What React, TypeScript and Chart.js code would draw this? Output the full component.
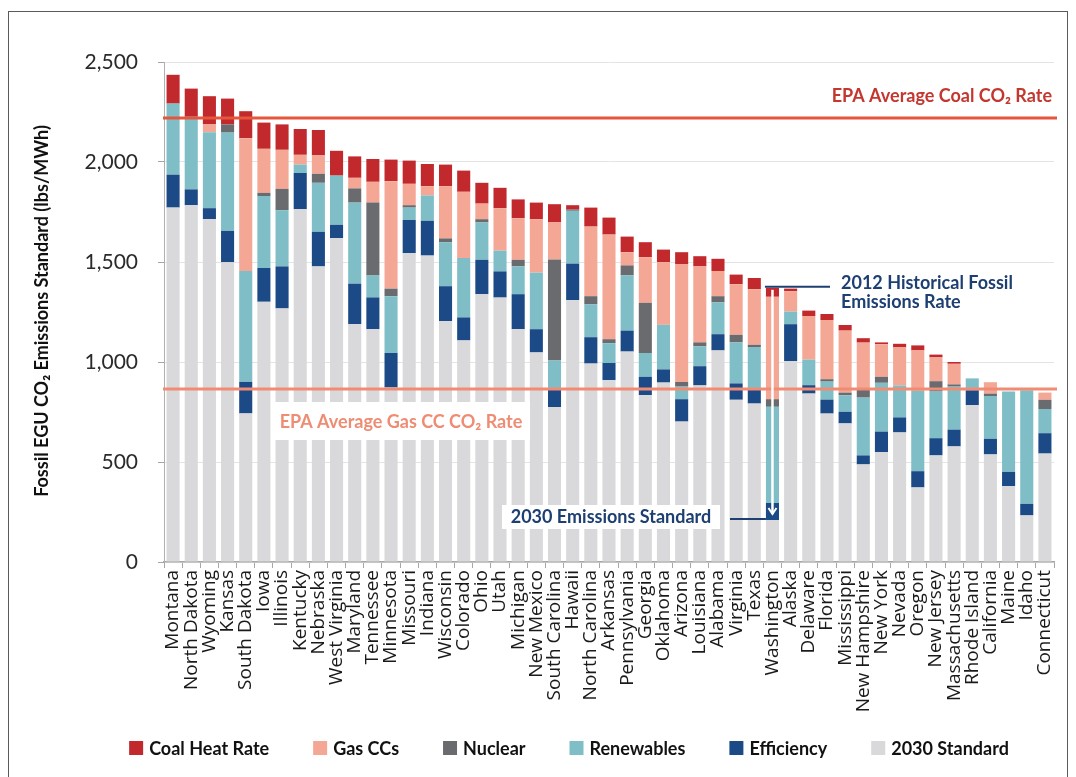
import React, { useEffect, useRef } from 'react';
import { Chart, registerables } from 'chart.js';

Chart.register(...registerables);

// ---------- data ----------
const STATES = [
  'Montana', 'North Dakota', 'Wyoming', 'Kansas', 'South Dakota', 'Iowa', 'Illinois', 'Kentucky',
  'Nebraska', 'West Virginia', 'Maryland', 'Tennessee', 'Minnesota', 'Missouri', 'Indiana',
  'Wisconsin', 'Colorado', 'Ohio', 'Utah', 'Michigan', 'New Mexico', 'South Carolina', 'Hawaii',
  'North Carolina', 'Arkansas', 'Pennsylvania', 'Georgia', 'Oklahoma', 'Arizona', 'Louisiana',
  'Alabama', 'Virginia', 'Texas', 'Washington', 'Alaska', 'Delaware', 'Florida', 'Mississippi',
  'New Hampshire', 'New York', 'Nevada', 'Oregon', 'New Jersey', 'Massachusetts', 'Rhode Island',
  'California', 'Maine', 'Idaho', 'Connecticut',
];

const STANDARD_2030 = [
  1772, 1784, 1715, 1499, 743, 1301, 1268, 1764, 1478, 1620, 1189, 1164, 872, 1544, 1532,
  1205, 1108, 1339, 1322, 1164, 1048, 775, 1309, 992, 909, 1052, 834, 897, 702, 883,
  1058, 811, 792, 210, 1004, 842, 742, 693, 488, 549, 648, 373, 533, 578, 785,
  538, 380, 233, 542,
];

const EFFICIENCY = [
  165, 79, 54, 157, 158, 169, 210, 181, 173, 66, 203, 159, 173, 166, 174,
  174, 115, 172, 131, 175, 116, 88, 183, 132, 86, 105, 92, 66, 112, 96,
  81, 82, 68, 85, 185, 42, 70, 58, 45, 103, 75, 81, 86, 84, 74,
  78, 71, 58, 102,
];

const RENEWABLES = [
  355, 363, 380, 491, 554, 360, 281, 42, 245, 246, 405, 110, 284, 62, 127,
  220, 297, 187, 104, 139, 283, 144, 264, 164, 99, 276, 119, 223, 63, 99,
  159, 205, 215, 481, 63, 128, 90, 83, 289, 244, 160, 401, 236, 215, 59,
  214, 401, 568, 121,
];

const NUCLEAR = [
  0, 0, 0, 41, 0, 16, 107, 0, 45, 0, 71, 364, 38, 12, 0,
  19, 0, 16, 0, 33, 0, 506, 6, 41, 20, 50, 251, 0, 23, 20,
  31, 38, 11, 38, 0, 0, 12, 13, 41, 30, 0, 0, 49, 11, 0,
  12, 0, 0, 46,
];

const GAS_CCS = [
  0, 0, 41, 0, 664, 220, 195, 49, 92, 0, 53, 104, 537, 107, 46,
  261, 331, 78, 212, 208, 267, 185, 0, 348, 523, 66, 228, 313, 588, 380,
  126, 253, 278, 512, 102, 218, 296, 310, 234, 163, 190, 203, 119, 103, 0,
  57, 0, 0, 36,
];

const COAL_HEAT_RATE = [
  144, 141, 139, 129, 135, 131, 127, 129, 127, 124, 107, 114, 108, 116, 111,
  108, 106, 104, 102, 94, 83, 91, 22, 95, 85, 78, 75, 63, 61, 51,
  61, 48, 56, 45, 13, 27, 30, 28, 22, 9, 18, 25, 14, 9, 0,
  0, 0, 0, 0,
];

const Y_MIN = 0;
const Y_MAX = 2500;
const Y_STEP = 500;

const EPA_AVG_COAL_RATE = 2220;
const EPA_AVG_GAS_CC_RATE = 865;
const ANNOTATED_STATE = 'Washington';

const SERIES = [
  { label: '2030 Standard', data: STANDARD_2030, color: '#d9d9db' },
  { label: 'Efficiency', data: EFFICIENCY, color: '#1c4a86' },
  { label: 'Renewables', data: RENEWABLES, color: '#7fbec6' },
  { label: 'Nuclear', data: NUCLEAR, color: '#6a6b6e' },
  { label: 'Gas CCs', data: GAS_CCS, color: '#f5a796' },
  { label: 'Coal Heat Rate', data: COAL_HEAT_RATE, color: '#c2292d' },
];

const NAVY = '#1d3f72';
const LABEL_FONT = "Lato, 'Open Sans', 'DejaVu Sans', sans-serif";

const annotationPlugin = {
  id: 'epaAnnotations',
  afterDatasetsDraw(chart: any) {
    const { ctx, chartArea: ca, scales } = chart;
    const xs = scales.x;
    const ys = scales.y;
    ctx.save();

    const hline = (v: number, color: string, w: number) => {
      const py = ys.getPixelForValue(v);
      ctx.beginPath();
      ctx.strokeStyle = color;
      ctx.lineWidth = w;
      ctx.moveTo(ca.left - 1, py);
      ctx.lineTo(ca.right + 3, py);
      ctx.stroke();
      return py;
    };

    const yCoal = hline(EPA_AVG_COAL_RATE, '#e5563d', 3);
    const yGas = hline(EPA_AVG_GAS_CC_RATE, '#f28b73', 3);

    ctx.textBaseline = 'middle';
    ctx.font = `bold 18px ${LABEL_FONT}`;

    // Coal label
    ctx.fillStyle = '#c3372f';
    ctx.textAlign = 'right';
    ctx.fillText('EPA Average Coal CO₂ Rate', ca.right - 2, yCoal - 22);

    // Gas label on white box
    ctx.fillStyle = '#ffffff';
    ctx.fillRect(273, yGas + 13, 257, 38);
    ctx.fillStyle = '#ee8d74';
    ctx.textAlign = 'center';
    ctx.fillText('EPA Average Gas CC CO₂ Rate', 401, yGas + 33);

    // Washington annotations
    const wa = STATES.indexOf(ANNOTATED_STATE);
    const meta = chart.getDatasetMeta(0);
    const bar = meta.data[wa];
    const xw = xs.getPixelForValue(wa);
    const bw = bar ? bar.width : 13;
    const total = SERIES.reduce((s, d) => s + d.data[wa], 0);
    const yTop = ys.getPixelForValue(total);
    const yStd = ys.getPixelForValue(STANDARD_2030[wa]);

    // white arrow through the bar
    ctx.strokeStyle = '#ffffff';
    ctx.lineWidth = 2.5;
    ctx.beginPath();
    ctx.moveTo(xw, yTop + 2);
    ctx.lineTo(xw, yStd - 6);
    ctx.stroke();
    ctx.lineWidth = 2;
    ctx.beginPath();
    ctx.moveTo(xw - 4, yStd - 12);
    ctx.lineTo(xw, yStd - 6);
    ctx.lineTo(xw + 4, yStd - 12);
    ctx.stroke();

    // 2012 historical line + label
    ctx.strokeStyle = NAVY;
    ctx.lineWidth = 2;
    ctx.beginPath();
    ctx.moveTo(xw - bw / 2 - 1, yTop - 1);
    ctx.lineTo(830, yTop - 1);
    ctx.stroke();
    ctx.fillStyle = NAVY;
    ctx.textAlign = 'left';
    ctx.fillText('2012 Historical Fossil', 841, yTop - 5);
    ctx.fillText('Emissions Rate', 841, yTop + 14);

    // 2030 standard line + label
    ctx.beginPath();
    ctx.moveTo(730, yStd - 1);
    ctx.lineTo(xw - bw / 2, yStd - 1);
    ctx.stroke();
    ctx.fillStyle = '#ffffff';
    ctx.fillRect(502, yStd - 15, 218, 24);
    ctx.fillStyle = NAVY;
    ctx.textAlign = 'center';
    ctx.fillText('2030 Emissions Standard', 611, yStd - 3);

    ctx.restore();
  },
  afterDraw(chart: any) {
    const { ctx } = chart;
    ctx.save();
    // y-axis title
    ctx.translate(42, 311);
    ctx.rotate(-Math.PI / 2);
    ctx.font = `bold 18px ${LABEL_FONT}`;
    ctx.fillStyle = '#111111';
    ctx.textAlign = 'center';
    ctx.textBaseline = 'middle';
    ctx.fillText('Fossil EGU CO₂ Emissions Standard (lbs/MWh)', 0, 0);
    ctx.restore();

    // legend (reverse stacking order, like the original)
    ctx.save();
    ctx.font = `bold 18px ${LABEL_FONT}`;
    ctx.textBaseline = 'middle';
    ctx.textAlign = 'left';
    const items = chart.data.datasets.slice().reverse();
    const box = 14;
    const gapText = 6;
    const gapItem = 44;
    const widths = items.map((d: any) => box + gapText + ctx.measureText(d.label).width);
    const total = widths.reduce((a: number, b: number) => a + b, 0) + gapItem * (items.length - 1);
    let cx = 569 - total / 2;
    const cy = 748;
    items.forEach((d: any, i: number) => {
      ctx.fillStyle = d.backgroundColor;
      ctx.fillRect(cx, cy - box / 2, box, box);
      ctx.fillStyle = '#111111';
      ctx.fillText(d.label, cx + box + gapText, cy + 1);
      cx += widths[i] + gapItem;
    });
    ctx.restore();
  },
};

export default function App() {
  const canvasRef = useRef<HTMLCanvasElement | null>(null);

  useEffect(() => {
    if (!canvasRef.current) return;
    const chart = new Chart(canvasRef.current, {
      type: 'bar',
      data: {
        labels: STATES,
        datasets: SERIES.map((s) => ({
          label: s.label,
          data: s.data,
          backgroundColor: s.color,
          borderWidth: 0,
          barPercentage: 0.72,
          categoryPercentage: 1,
        })),
      },
      options: {
        animation: false,
        responsive: true,
        maintainAspectRatio: false,
        layout: { padding: { left: 82, right: 22, top: 62, bottom: 50 } },
        plugins: {
          tooltip: { enabled: false },
          legend: { display: false },
        },
        scales: {
          x: {
            stacked: true,
            offset: true,
            afterFit: (scale: any) => {
              scale.height = scale.chart.height - 562 - 50;
            },
            grid: {
              offset: true,
              drawOnChartArea: false,
              tickLength: 6,
              color: '#a6a6a6',
            },
            border: { color: '#a6a6a6', width: 1.5 },
            ticks: {
              autoSkip: false,
              maxRotation: 90,
              minRotation: 90,
              padding: 2,
              color: '#1a1a1a',
              font: { family: "'Open Sans', sans-serif", size: 19 },
            },
          },
          y: {
            stacked: true,
            min: Y_MIN,
            max: Y_MAX,
            afterFit: (scale: any) => {
              scale.width = 82;
            },
            grid: {
              color: '#e4e4e4',
              tickColor: '#a6a6a6',
              tickLength: 6,
            },
            border: { color: '#b0b0b0', width: 1 },
            ticks: {
              stepSize: Y_STEP,
              padding: 20,
              color: '#2a2a2a',
              font: { family: "Lato, 'Open Sans', sans-serif", size: 21 },
              callback: (v: any) => Number(v).toLocaleString('en-US'),
            },
          },
        },
      },
      plugins: [annotationPlugin],
    });
    return () => chart.destroy();
  }, []);

  return (
    <div
      style={{
        position: 'absolute',
        left: 0,
        top: 0,
        width: 1076,
        height: 777,
        overflow: 'hidden',
        background: '#ffffff',
      }}
    >
      <div
        style={{
          position: 'absolute',
          left: 8,
          top: 11,
          width: 1060,
          height: 800,
          border: '1.5px solid #5a5a5a',
          boxSizing: 'border-box',
        }}
      />
      <div style={{ position: 'absolute', left: 0, top: 0, width: 1076, height: 777 }}>
        <canvas ref={canvasRef} />
      </div>
    </div>
  );
}
